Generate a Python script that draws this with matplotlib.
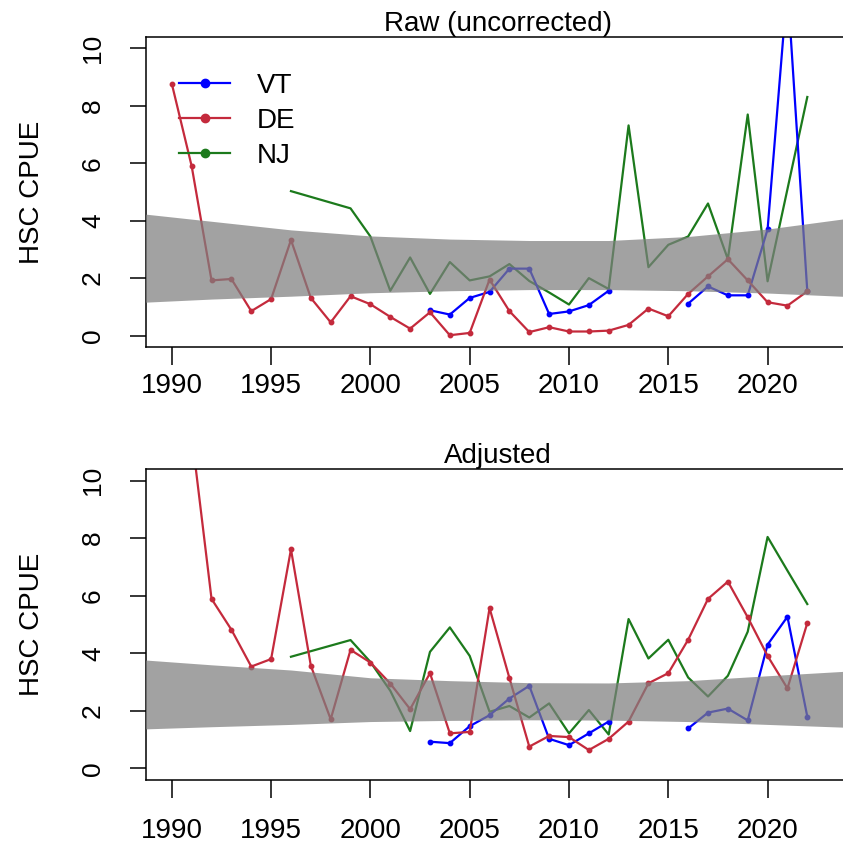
# HSC CPUE by state: raw vs adjusted, with the shared trend band
import matplotlib.pyplot as plt
import numpy as np

plt.rcParams['font.family'] = ['Liberation Sans', 'DejaVu Sans']

years = list(range(1990, 2023))
nan = np.nan

# Raw (uncorrected) CPUE
raw_vt = [nan] * 13 + [0.88, 0.73, 1.31, 1.52, 2.33, 2.33, 0.75, 0.84, 1.06, 1.56,
                       nan, nan, nan, 1.11, 1.71, 1.40, 1.40, 3.70, 12.2, 1.54]
raw_de = [8.77, 5.90, 1.92, 1.97, 0.85, 1.27, 3.33, 1.31, 0.46, 1.37, 1.09, 0.65,
          0.24, 0.81, 0.01, 0.09, 1.95, 0.85, 0.12, 0.29, 0.14, 0.14, 0.17, 0.37,
          0.94, 0.67, 1.45, 2.06, 2.66, 1.92, 1.16, 1.04, 1.54]
nj_years = [1996] + list(range(1999, 2023))
raw_nj = [5.03, 4.43, 3.45, 1.56, 2.72, 1.45, 2.56, 1.92, 2.06, 2.49, 1.90, 1.50,
          1.08, 2.00, 1.62, 7.32, 2.38, 3.16, 3.45, 4.60, 2.66, 7.70, 1.89, 5.10, 8.31]

# Adjusted CPUE
adj_vt = [nan] * 13 + [0.93, 0.88, 1.47, 1.85, 2.43, 2.87, 1.03, 0.81, 1.22, 1.63,
                       nan, nan, nan, 1.39, 1.94, 2.08, 1.67, 4.30, 5.27, 1.80]
adj_de = [14.0, 11.6, 5.89, 4.82, 3.54, 3.80, 7.61, 3.57, 1.71, 4.12, 3.68, 2.95,
          2.06, 3.31, 1.22, 1.27, 5.57, 3.14, 0.76, 1.13, 1.09, 0.64, 1.03, 1.63,
          2.96, 3.31, 4.47, 5.89, 6.49, 5.25, 3.91, 2.78, 5.05]
adj_nj = [3.88, 4.46, 3.70, 2.70, 1.30, 4.05, 4.90, 3.91, 1.97, 2.17, 1.77, 2.26,
          1.22, 2.03, 1.18, 5.19, 3.82, 4.47, 3.16, 2.50, 3.22, 4.75, 8.04, 6.87, 5.71]

# trend band (lower / upper edges)
band_years = [1988, 1992, 1996, 2000, 2004, 2008, 2012, 2016, 2020, 2024, 2025]
raw_lo = [1.14, 1.27, 1.37, 1.49, 1.56, 1.60, 1.60, 1.56, 1.48, 1.36, 1.33]
raw_hi = [4.28, 3.98, 3.68, 3.47, 3.36, 3.31, 3.31, 3.45, 3.71, 4.08, 4.18]
adj_lo = [1.36, 1.45, 1.53, 1.63, 1.67, 1.69, 1.68, 1.63, 1.53, 1.43, 1.40]
adj_hi = [3.80, 3.60, 3.42, 3.15, 3.05, 2.98, 2.97, 3.05, 3.22, 3.38, 3.42]

col_vt = '#0000ff'
col_de = '#c42a3c'
col_nj = '#1c7a1c'
band_col = '#7f7f7f'

W, H = 843, 847


def add_panel(fig, top_px, bottom_px):
    # left edge at 146 px, right edge just past the figure (no right border shown)
    return fig.add_axes([146 / W, 1 - bottom_px / H, 704 / W, (bottom_px - top_px) / H])


def draw_panel(ax, title, vt, de, nj, lo, hi, xpad):
    ax.plot(nj_years, nj, color=col_nj, lw=1.6)
    ax.plot(years, vt, color=col_vt, lw=1.6, marker='o', ms=3.2)
    ax.plot(years, de, color=col_de, lw=1.6, marker='o', ms=3.2)
    ax.fill_between(band_years, lo, hi, color=band_col, alpha=0.72, lw=0, zorder=5)

    ax.set_xlim(1988.7, 2024.15)
    ax.set_ylim(-0.4, 10.4)
    ax.set_xticks(range(1990, 2021, 5))
    ax.set_yticks(range(0, 11, 2))
    ax.tick_params(axis='x', direction='out', length=13, width=1.1, labelsize=20, pad=xpad)
    ax.tick_params(axis='y', direction='out', length=11.5, width=1.1, labelsize=19,
                   pad=18, labelrotation=90)
    for lab in ax.get_yticklabels():
        lab.set_verticalalignment('center')
    for s in ['left', 'top', 'bottom']:
        ax.spines[s].set_linewidth(1.1)
    ax.spines['right'].set_visible(False)
    ax.set_ylabel('HSC CPUE', fontsize=20, labelpad=26)
    ax.set_title(title, fontsize=20, pad=4)


fig = plt.figure(figsize=(W / 100, H / 100), dpi=100)

ax1 = add_panel(fig, 37, 347)
draw_panel(ax1, 'Raw (uncorrected)', raw_vt, raw_de, raw_nj, raw_lo, raw_hi, 6)

handles = [plt.Line2D([], [], color=c, lw=1.6, marker='o', ms=6)
           for c in [col_vt, col_de, col_nj]]
ax1.legend(handles, ['VT', 'DE', 'NJ'], loc='upper left', bbox_to_anchor=(0.047, 0.885),
           frameon=False, fontsize=20, handlelength=1.85, handletextpad=0.95,
           labelspacing=0.33, borderpad=0, borderaxespad=0)

ax2 = add_panel(fig, 469, 780)
draw_panel(ax2, 'Adjusted', adj_vt, adj_de, adj_nj, adj_lo, adj_hi, 14)

fig.savefig('out.png', dpi=100)
